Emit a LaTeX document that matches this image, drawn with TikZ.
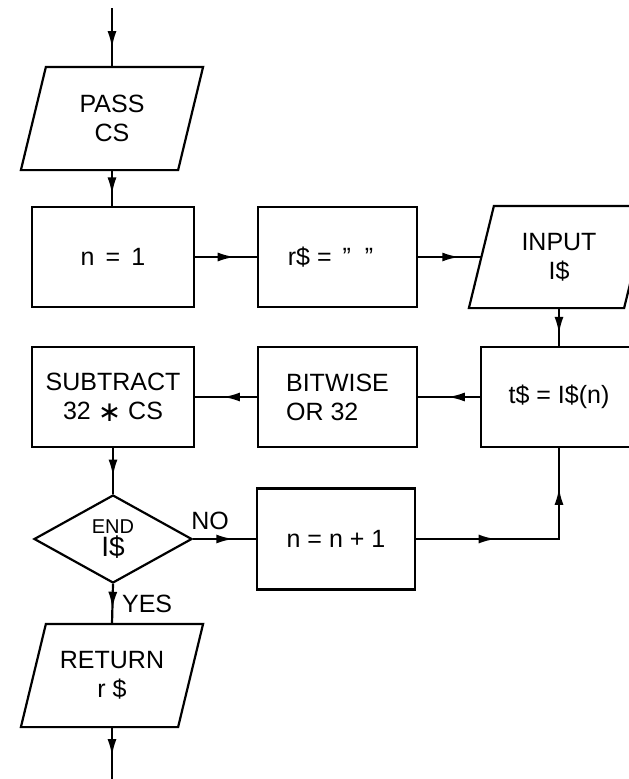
\documentclass[tikz,border=0pt]{standalone}
\usepackage{fontspec}
\setmainfont{Liberation Sans}
\newfontfamily\dejavu{DejaVu Sans}
\usetikzlibrary{arrows.meta,decorations.markings,shapes.geometric}
\tikzset{
  marr/.style={postaction={decorate,decoration={markings,
      mark=at position #1 with {\arrow{Latex[length=17pt,width=9pt]}}}}},
  marrtwo/.style 2 args={postaction={decorate,decoration={markings,
      mark=at position #1 with {\arrow{Latex[length=17pt,width=9pt]}},
      mark=at position #2 with {\arrow{Latex[length=17pt,width=9pt]}}}}},
  txt/.style={font=\fontsize{25}{29}\selectfont},
  procbox/.style={draw, rectangle, inner sep=0pt, align=center, txt,
      minimum height=100pt},
  pgram/.style={rectangle, inner sep=0pt, align=center, txt,
      minimum width=155pt, minimum height=101pt},
  decis/.style={draw, diamond, inner sep=0pt, align=center,
      minimum width=158pt, minimum height=88pt},
  lbl/.style={txt, inner sep=0pt}
}
\newcommand\pgramdraw[1]{\draw ([xshift=12.5pt]#1.north west) -- ([xshift=12.5pt]#1.north east) -- ([xshift=-12.5pt]#1.south east) -- ([xshift=-12.5pt]#1.south west) -- cycle;}
\begin{document}
\begin{tikzpicture}[x=1pt,y=-1pt,line width=2.2pt]
\useasboundingbox (0,0) rectangle (629,779);
\fill[white] (0,0) rectangle (629,779);
\clip (0,0) rectangle (629,779);

% nodes
\node[pgram] (pass) at (112,118.5) {PASS\\CS};
\pgramdraw{pass}
\node[procbox, minimum width=162pt] (n1) at (113,257) {n\ \,=\ \,1};
\node[procbox, minimum width=159pt] (rs) at (337.5,257) {r\$ = \,"\;\;"\;\;};
\node[pgram, minimum width=153pt, minimum height=100pt] (inp) at (559,257) {INPUT\\I\$};
\pgramdraw{inp}
\node[procbox, minimum width=156pt] (ts) at (559,397) {t\$ = I\$(n)};
\node[procbox, minimum width=159pt, align=left] (bw) at (337.5,397) {BITWISE\\OR 32};
\node[procbox, minimum width=162pt] (sub) at (113,397) {SUBTRACT\\32 {\dejavu\fontsize{28}{28}\selectfont\raisebox{-2pt}{∗}} CS};
\node[decis] (dia) at (113,539) {{\fontsize{20}{21}\selectfont END}\\[2pt]{\fontsize{28}{28}\selectfont I\$}};
\node[procbox, minimum width=158pt, minimum height=101pt] (inc) at (336,539) {n = n + 1};
\node[pgram] (ret) at (112,675.5) {RETURN\\r \$};
\pgramdraw{ret}

% labels
\node[lbl] (no) at (210,521) {NO};
\node[lbl, anchor=west] (yes) at (121,604) {YES};

% connectors
\coordinate (topin) at (112,8);
\coordinate (botout) at (112,785);
\coordinate (corner) at (ts.south |- inc.east);
\draw[marr=0.68] (topin) -- (pass.north);
\draw[marr=0.68] (pass.south) -- (pass.south |- n1.north);
\draw[marr=0.64] (n1.east) -- (rs.west);
\draw[marr=0.65] (rs.east) -- (inp.west);
\draw[marr=0.68] (inp.south) -- (ts.north);
\draw[marr=0.52] (ts.west) -- (bw.east);
\draw[marr=0.55] (bw.west) -- (sub.east);
\draw[marr=0.62] (sub.south) -- (dia.north);
\draw[marr=0.64] (dia.east) -- (inc.west);
\draw[marrtwo={0.34}{0.83}] (inc.east) -- (corner) -- (ts.south);
\draw[marr=0.62] (dia.south) -- (ret.north);
\draw[marr=0.5] (ret.south) -- (botout);
\end{tikzpicture}
\end{document}
